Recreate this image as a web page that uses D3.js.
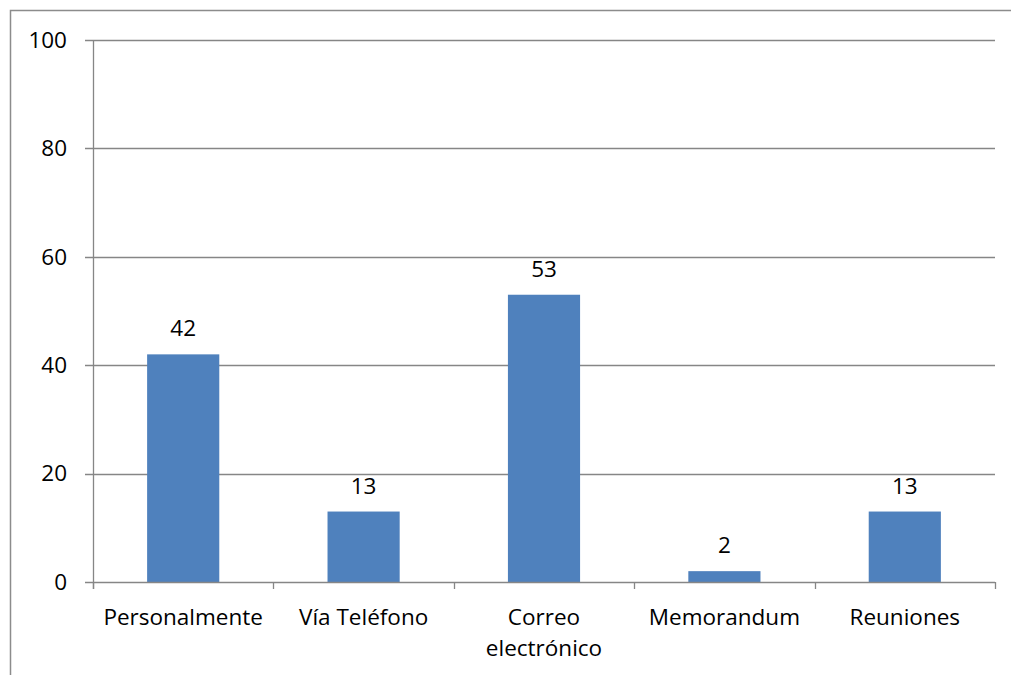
<!DOCTYPE html>
<html>
<head>
<meta charset="utf-8">
<script src="https://cdn.jsdelivr.net/npm/d3@7"></script>
<style>
  html, body { margin: 0; padding: 0; background: #fff; }
  svg { display: block; }
  text { font-family: "Open Sans", Lato, sans-serif; fill: #000; }
</style>
</head>
<body>
<svg id="chart" width="1011" height="675"></svg>
<script>
// Canales de comunicación
const categories = ["Personalmente", "Vía Teléfono", "Correo electrónico", "Memorandum", "Reuniones"];
const categoryLines = [["Personalmente"], ["Vía Teléfono"], ["Correo", "electrónico"], ["Memorandum"], ["Reuniones"]];
const values = [42, 13, 53, 2, 13];
const yTicks = [0, 20, 40, 60, 80, 100];

const svg = d3.select("#chart");
const plot = { left: 93, right: 995, top: 40, bottom: 582 };
const gridColor = "#868686";
const barColor = "#4F81BD";
const fontSize = 22.5;

// Outer chart frame
svg.append("rect")
  .attr("x", 10.5).attr("y", 10.5)
  .attr("width", 1100).attr("height", 800)
  .attr("fill", "none").attr("stroke", "#8c8c8c").attr("stroke-width", 1.5);

const x = d3.scaleBand().domain(categories).range([plot.left, plot.right])
  .paddingInner(0.6).paddingOuter(0.3);
const y = d3.scaleLinear().domain([0, 100]).range([plot.bottom, plot.top]);
const step = x.step();

// Horizontal gridlines with left tick marks
svg.append("g").selectAll("line").data(yTicks.filter(d => d > 0)).join("line")
  .attr("x1", plot.left - 8).attr("x2", plot.right)
  .attr("y1", d => Math.round(y(d)) + 0.5).attr("y2", d => Math.round(y(d)) + 0.5)
  .attr("stroke", gridColor).attr("stroke-width", 1.3);

// Y axis labels
svg.append("g").selectAll("text").data(yTicks).join("text")
  .attr("x", 67).attr("y", d => y(d))
  .attr("dy", "0.35em").attr("text-anchor", "end")
  .attr("font-size", fontSize).text(d => d);

// Bars
svg.append("g").selectAll("rect").data(values).join("rect")
  .attr("x", (d, i) => x(categories[i]))
  .attr("width", x.bandwidth())
  .attr("y", d => y(d))
  .attr("height", d => y(0) - y(d))
  .attr("fill", barColor);

// Value labels
svg.append("g").selectAll("text").data(values).join("text")
  .attr("x", (d, i) => x(categories[i]) + x.bandwidth() / 2)
  .attr("y", d => y(d) - 18)
  .attr("text-anchor", "middle").attr("font-size", fontSize)
  .text(d => d);

// Y axis line
svg.append("line")
  .attr("x1", plot.left + 0.5).attr("x2", plot.left + 0.5)
  .attr("y1", plot.top).attr("y2", plot.bottom + 7)
  .attr("stroke", gridColor).attr("stroke-width", 1.3);

// X axis line with boundary ticks
svg.append("line")
  .attr("x1", plot.left - 8).attr("x2", plot.right)
  .attr("y1", plot.bottom + 0.5).attr("y2", plot.bottom + 0.5)
  .attr("stroke", gridColor).attr("stroke-width", 1.3);
const boundaries = d3.range(categories.length + 1).map(i => plot.left + i * step);
svg.append("g").selectAll("line").data(boundaries).join("line")
  .attr("x1", d => Math.round(d) + 0.5).attr("x2", d => Math.round(d) + 0.5)
  .attr("y1", plot.bottom).attr("y2", plot.bottom + 7)
  .attr("stroke", gridColor).attr("stroke-width", 1.3);

// Category labels
const catG = svg.append("g").selectAll("text").data(categories).join("text")
  .attr("text-anchor", "middle").attr("font-size", fontSize)
  .attr("transform", d => `translate(${x(d) + x.bandwidth() / 2},${plot.bottom + 43})`);
catG.selectAll("tspan").data((d, i) => categoryLines[i]).join("tspan")
  .attr("x", 0).attr("dy", (d, i) => i === 0 ? 0 : 31)
  .text(d => d);
</script>
</body>
</html>
